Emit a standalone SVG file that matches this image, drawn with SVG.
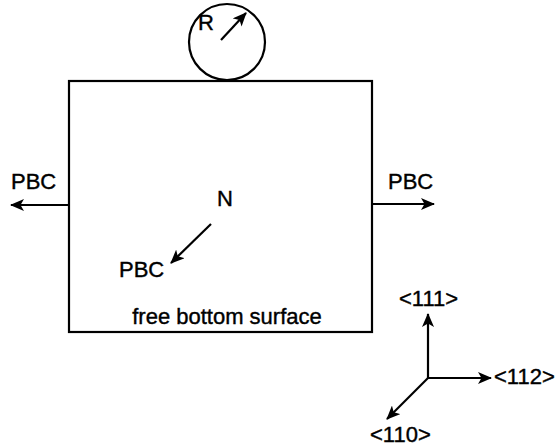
<svg xmlns="http://www.w3.org/2000/svg" width="557" height="447" viewBox="0 0 557 447">
<style>
.l{stroke:#000;stroke-width:2.2;fill:none}
.a{stroke:#000;stroke-width:2.2;fill:none;marker-end:url(#ah)}
text{font-family:"Liberation Sans",Arial,sans-serif;font-size:22px;fill:#000;stroke:#000;stroke-width:0.4}
</style>
<defs>
<marker id="ah" viewBox="0 0 14 12" refX="13" refY="6" markerWidth="14" markerHeight="12" markerUnits="userSpaceOnUse" orient="auto">
<path d="M0,0 L14,6 L0,12 L3.5,6 Z" fill="#000"/>
</marker>
</defs>
<rect width="557" height="447" fill="#fff"/>
<g id="box">
<rect class="l" x="69" y="81" width="303" height="251"/>
<text x="227" y="324" text-anchor="middle">free bottom surface</text>
</g>
<g id="circle">
<circle class="l" cx="227" cy="42" r="38"/>
<text x="198" y="30">R</text>
</g>
<g id="labels">
<text x="11" y="189">PBC</text>
<text x="388" y="189">PBC</text>
<text x="217" y="206">N</text>
<text x="119" y="277">PBC</text>
<text x="399" y="306">&lt;111&gt;</text>
<text x="494" y="384">&lt;112&gt;</text>
<text x="370" y="442">&lt;110&gt;</text>
</g>
<g id="connectors">
<line class="a" x1="221" y1="40" x2="246" y2="13"/>
<line class="a" x1="69" y1="205" x2="11" y2="205"/>
<line class="a" x1="372" y1="204" x2="434" y2="204"/>
<line class="a" x1="211" y1="224" x2="171" y2="263"/>
<line class="a" x1="428" y1="378" x2="428" y2="314"/>
<line class="a" x1="428" y1="378" x2="491" y2="378"/>
<line class="a" x1="428" y1="378" x2="387" y2="419"/>
</g>
</svg>
